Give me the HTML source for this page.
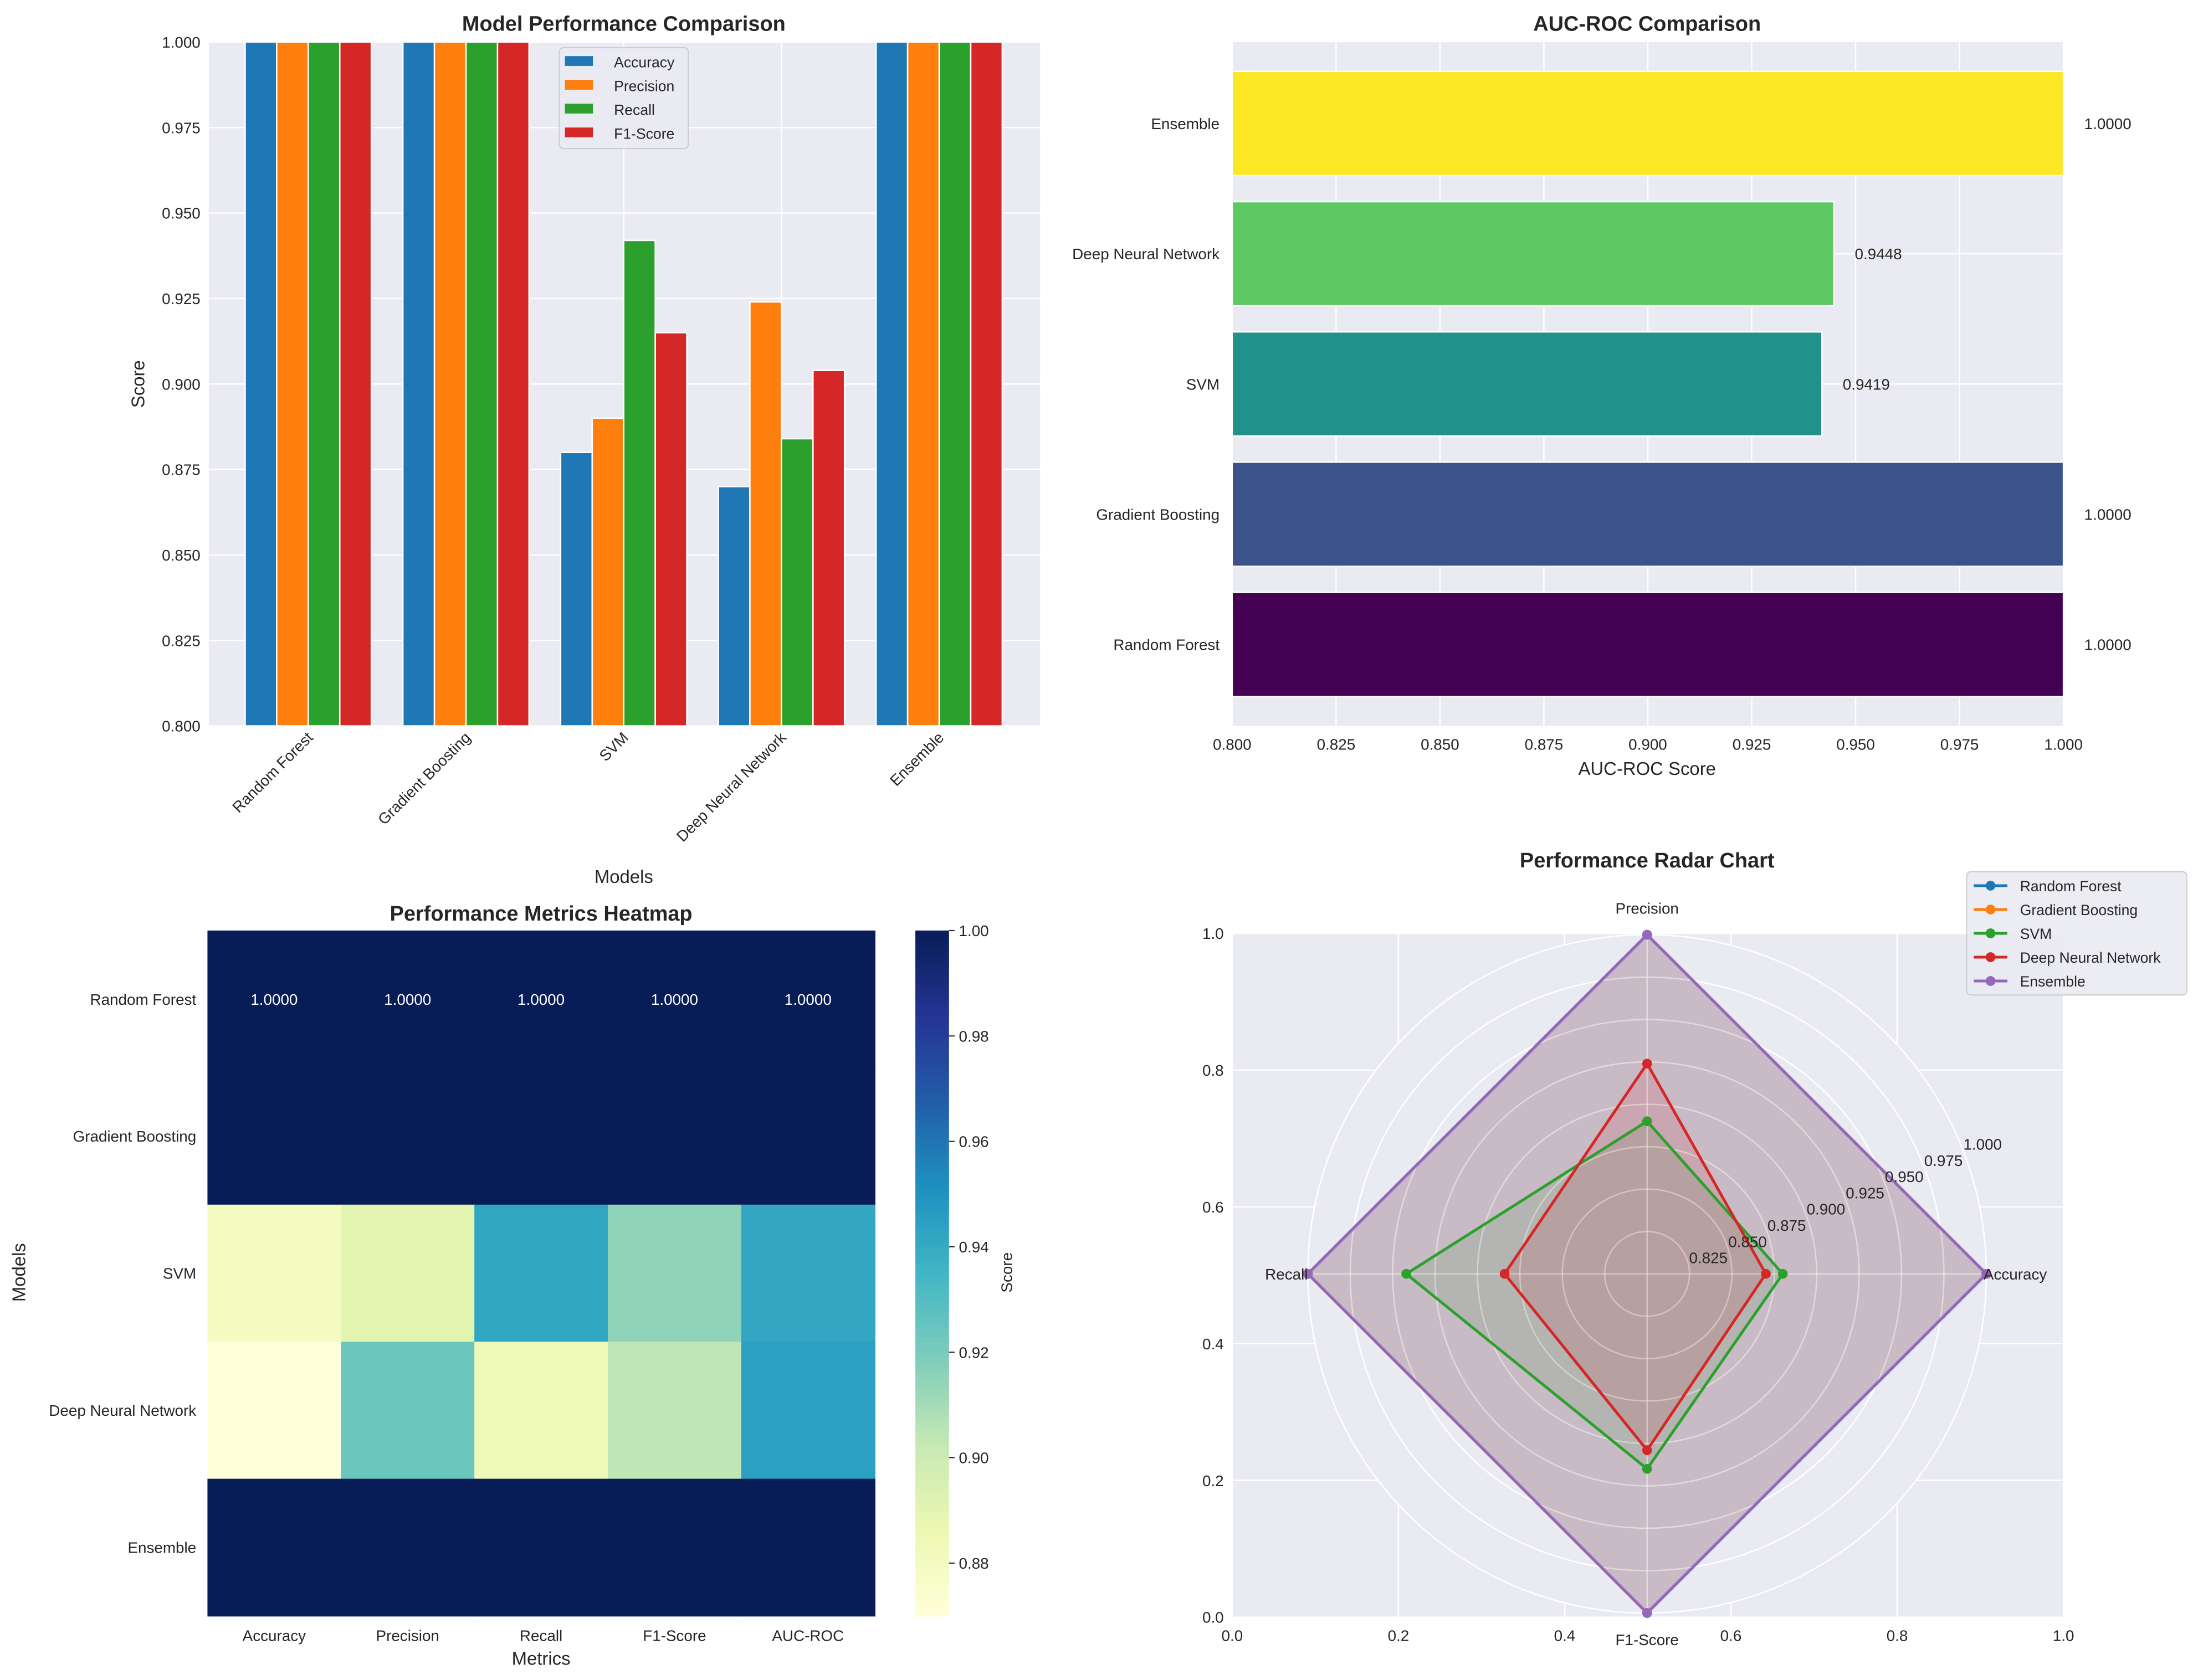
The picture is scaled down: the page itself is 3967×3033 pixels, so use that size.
<!DOCTYPE html>
<html><head><meta charset="utf-8"><style>
html,body{margin:0;padding:0;background:#fff;}
svg{display:block;font-family:"Liberation Sans",sans-serif;}
</style></head><body>
<svg id="fig" width="3967" height="3033" viewBox="0 0 1568 1198.8" xmlns="http://www.w3.org/2000/svg"></svg>
<script>
const models = ["Random Forest","Gradient Boosting","SVM","Deep Neural Network","Ensemble"];
const metrics = ["Accuracy","Precision","Recall","F1-Score"];
const accuracy = [1.0,1.0,0.880,0.870,1.0];
const precision = [1.0,1.0,0.890,0.924,1.0];
const recall = [1.0,1.0,0.942,0.884,1.0];
const f1score = [1.0,1.0,0.915,0.904,1.0];
const aucroc = [1.0,1.0,0.9419,0.9448,1.0];
const barTicks = [0.800,0.825,0.850,0.875,0.900,0.925,0.950,0.975,1.000];
const cbarTicks = [0.88,0.90,0.92,0.94,0.96,0.98,1.00];
const radarTicks = [0.825,0.850,0.875,0.900,0.925,0.950,0.975,1.000];
const frameTicks = [0.0,0.2,0.4,0.6,0.8,1.0];
const heatCols = ["Accuracy","Precision","Recall","F1-Score","AUC-ROC"];

const NS="http://www.w3.org/2000/svg";
const svg=document.getElementById('fig');
function el(tag,attrs,parent,text){const e=document.createElementNS(NS,tag);for(const k in attrs)e.setAttribute(k,attrs[k]);if(text!==undefined)e.textContent=text;(parent||svg).appendChild(e);return e;}
const barColors=["#1f77b4","#ff7f0e","#2ca02c","#d62728"];
const series=[accuracy,precision,recall,f1score];
const modelColors=["#1f77b4","#ff7f0e","#2ca02c","#d62728","#9467bd"];
const TXT="#262626";

// ---------- Chart 1: grouped bars ----------
const g1=el('g',{});


const A1={x0:149,x1:742,y0:30,y1:518};
const XMIN=-0.63,XMAX=4.64;
const x1s=v=>A1.x0+(v-XMIN)/(XMAX-XMIN)*(A1.x1-A1.x0);
const y1s=v=>A1.y1-(v-0.8)/0.2*(A1.y1-A1.y0);
el('rect',{x:A1.x0,y:A1.y0,width:A1.x1-A1.x0,height:A1.y1-A1.y0,fill:"#eaeaf2"},g1);
barTicks.forEach(t=>{el('line',{x1:A1.x0,x2:A1.x1,y1:y1s(t),y2:y1s(t),stroke:"#fff","stroke-width":1},g1);
 const tl=el('text',{x:A1.x0-6,y:y1s(t)+4,"text-anchor":"end","font-size":11,fill:TXT},g1,t.toFixed(3));
 });
models.forEach((m,i)=>el('line',{x1:x1s(i),x2:x1s(i),y1:A1.y0,y2:A1.y1,stroke:"#fff","stroke-width":1},g1));
const bw=0.2*(A1.x1-A1.x0)/(XMAX-XMIN);
series.forEach((s,j)=>s.forEach((v,i)=>{
 const cx=x1s(i+(j-1.5)*0.2);
 const r=el('rect',{x:cx-bw/2,y:y1s(v),width:bw,height:A1.y1-y1s(v),fill:barColors[j],stroke:"#fff","stroke-width":1},g1);
 
 
}));
models.forEach((m,i)=>{const t=el('text',{x:x1s(i)+4,y:527,"text-anchor":"end","font-size":11,fill:TXT,transform:`rotate(-45 ${x1s(i)+4} 527)`},g1,m);
 });
let t=el('text',{x:445,y:22,"text-anchor":"middle","font-size":15,"font-weight":"bold",fill:TXT},g1,"Model Performance Comparison");

t=el('text',{x:445,y:630,"text-anchor":"middle","font-size":13,fill:TXT},g1,"Models");

t=el('text',{x:103,y:274,"text-anchor":"middle","font-size":13,fill:TXT,transform:"rotate(-90 103 274)"},g1,"Score");

const lg1=el('g',{},g1);

el('rect',{x:399,y:34,width:92,height:72,rx:3,fill:"#eaeaf2","fill-opacity":0.9,stroke:"#ccc","stroke-width":0.8},lg1);
metrics.forEach((m,j)=>{el('rect',{x:403,y:40+j*17,width:20,height:7,fill:barColors[j]},lg1);
 const e=el('text',{x:438,y:48+j*17,"font-size":10.5,fill:TXT},lg1,m);
 });

// ---------- Chart 2: horizontal bars ----------
const g2=el('g',{});

const A2={x0:879,x1:1472,y0:30,y1:518};
const x2s=v=>A2.x0+(v-0.8)/0.2*(A2.x1-A2.x0);
const y2s=i=>A2.y1-(i+0.625)/5.25*(A2.y1-A2.y0);
const viridis=["#440154","#3b528b","#21918c","#5ec962","#fde725"];
el('rect',{x:A2.x0,y:A2.y0,width:A2.x1-A2.x0,height:A2.y1-A2.y0,fill:"#eaeaf2"},g2);
barTicks.forEach(tk=>{el('line',{x1:x2s(tk),x2:x2s(tk),y1:A2.y0,y2:A2.y1,stroke:"#fff","stroke-width":1},g2);
 const e=el('text',{x:x2s(tk),y:535,"text-anchor":"middle","font-size":11,fill:TXT},g2,tk.toFixed(3));
 });
const bh=0.8*(A2.y1-A2.y0)/5.25;
models.forEach((m,i)=>{el('line',{x1:A2.x0,x2:A2.x1,y1:y2s(i),y2:y2s(i),stroke:"#fff","stroke-width":1},g2);
 const r=el('rect',{x:A2.x0,y:y2s(i)-bh/2,width:x2s(aucroc[i])-A2.x0,height:bh,fill:viridis[i],stroke:"#fff","stroke-width":1},g2);
 
 const l=el('text',{x:x2s(aucroc[i]+0.005),y:y2s(i)+4,"font-size":11,fill:TXT},g2,aucroc[i].toFixed(4));
 
 const yl=el('text',{x:A2.x0-9,y:y2s(i)+4,"text-anchor":"end","font-size":11,fill:TXT},g2,m);
 });
t=el('text',{x:1175,y:22,"text-anchor":"middle","font-size":15,"font-weight":"bold",fill:TXT},g2,"AUC-ROC Comparison");

t=el('text',{x:1175,y:553,"text-anchor":"middle","font-size":13,fill:TXT},g2,"AUC-ROC Score");


// ---------- Chart 3: heatmap ----------
const g3=el('g',{});

const A3={x0:148,x1:624,y0:664,y1:1153};
const stops=["#ffffd9","#edf8b1","#c7e9b4","#7fcdbb","#41b6c4","#1d91c0","#225ea8","#253494","#081d58"];
function hex(c){return [1,3,5].map(k=>parseInt(c.substr(k,2),16));}
function cmap(v){let n=(v-0.87)/0.13;n=Math.max(0,Math.min(1,n));const p=n*8;const k=Math.min(7,Math.floor(p));const f=p-k;const a=hex(stops[k]),b=hex(stops[k+1]);return `rgb(${a.map((x,q)=>Math.round(x+(b[q]-x)*f)).join(',')})`;}
const heat=[accuracy,precision,recall,f1score,aucroc];
const cw=(A3.x1-A3.x0)/5,ch=(A3.y1-A3.y0)/5;
models.forEach((m,i)=>{heat.forEach((col,j)=>{
 const r=el('rect',{x:A3.x0+j*cw,y:A3.y0+i*ch,width:cw+0.5,height:ch+0.5,fill:cmap(col[i])},g3);
 
 if(i===0){const a=el('text',{x:A3.x0+(j+0.5)*cw,y:A3.y0+(i+0.5)*ch+4,"text-anchor":"middle","font-size":11,fill:"#fff"},g3,col[i].toFixed(4));
  }
 });
 const yl=el('text',{x:A3.x0-8,y:A3.y0+(i+0.5)*ch+4,"text-anchor":"end","font-size":11,fill:TXT},g3,m);
 });
heatCols.forEach((c,j)=>{const e=el('text',{x:A3.x0+(j+0.5)*cw,y:1171,"text-anchor":"middle","font-size":11,fill:TXT},g3,c);
 });
const cb=el('g',{},g3);
const CB={x0:653,x1:677,y0:664,y1:1153};
const cbY=v=>CB.y1-(v-0.87)/0.13*(CB.y1-CB.y0);
for(let k=0;k<130;k++){const v=0.87+k*0.001;el('rect',{x:CB.x0,y:cbY(v+0.001),width:CB.x1-CB.x0,height:(CB.y1-CB.y0)/130+0.6,fill:cmap(v+0.0005)},cb);}
cbarTicks.forEach(tk=>{el('line',{x1:CB.x1,x2:CB.x1+4,y1:cbY(tk),y2:cbY(tk),stroke:TXT,"stroke-width":0.8},cb);
 const e=el('text',{x:CB.x1+7,y:cbY(tk)+4,"font-size":11,fill:TXT},cb,tk.toFixed(2));
 });
t=el('text',{x:722,y:908,"text-anchor":"middle","font-size":11,fill:TXT,transform:"rotate(-90 722 908)"},cb,"Score");

t=el('text',{x:386,y:657,"text-anchor":"middle","font-size":15,"font-weight":"bold",fill:TXT},g3,"Performance Metrics Heatmap");

t=el('text',{x:386,y:1188,"text-anchor":"middle","font-size":13,fill:TXT},g3,"Metrics");

t=el('text',{x:18,y:908,"text-anchor":"middle","font-size":13,fill:TXT,transform:"rotate(-90 18 908)"},g3,"Models");


// ---------- Chart 4: radar ----------
const g4=el('g',{});

const A4={x0:879,x1:1472,y0:666,y1:1154};
el('rect',{x:A4.x0,y:A4.y0,width:A4.x1-A4.x0,height:A4.y1-A4.y0,fill:"#eaeaf2"},g4);
frameTicks.forEach(tk=>{const xx=A4.x0+tk*(A4.x1-A4.x0),yy=A4.y1-tk*(A4.y1-A4.y0);
 el('line',{x1:xx,x2:xx,y1:A4.y0,y2:A4.y1,stroke:"#fff","stroke-width":1},g4);
 el('line',{x1:A4.x0,x2:A4.x1,y1:yy,y2:yy,stroke:"#fff","stroke-width":1},g4);
 let e=el('text',{x:xx,y:1171,"text-anchor":"middle","font-size":11,fill:TXT},g4,tk.toFixed(1));
 
 e=el('text',{x:A4.x0-6,y:yy+4,"text-anchor":"end","font-size":11,fill:TXT},g4,tk.toFixed(1));
 });
const C={x:1175,y:909,R:242};
const rs=v=>(v-0.8)/0.2*C.R;
el('circle',{cx:C.x,cy:C.y,r:C.R,fill:"#eaeaf2"},g4);
const angs=[0,90,180,270];
const axLabels=["Accuracy","Precision","Recall","F1-Score"];
function grid(op){radarTicks.forEach(tk=>el('circle',{cx:C.x,cy:C.y,r:rs(tk),fill:"none",stroke:"#fff","stroke-width":1,"stroke-opacity":op},g4));
angs.forEach(a=>{const r=a*Math.PI/180;el('line',{x1:C.x,y1:C.y,x2:C.x+C.R*Math.cos(r),y2:C.y-C.R*Math.sin(r),stroke:"#fff","stroke-width":1,"stroke-opacity":op},g4);});}
grid(1);
const radarData=[accuracy,precision,recall,f1score];
function pts(i){return angs.map((a,k)=>{const r=a*Math.PI/180,d=rs(radarData[k][i]);return [C.x+d*Math.cos(r),C.y-d*Math.sin(r)];});}
models.forEach((m,i)=>{const p=pts(i);const s=p.map(q=>q.join(',')).join(' ');
 const f=el('polygon',{points:s,fill:modelColors[i],"fill-opacity":0.15,stroke:"none"},g4);
 });
grid(0.3);
models.forEach((m,i)=>{const p=pts(i);const s=p.concat([p[0]]).map(q=>q.join(',')).join(' ');
 const l=el('polyline',{points:s,fill:"none",stroke:modelColors[i],"stroke-width":2},g4);
 
 p.forEach(q=>{const c=el('circle',{cx:q[0],cy:q[1],r:3.5,fill:modelColors[i]},g4);
  });});
radarTicks.forEach(tk=>{const r=22.5*Math.PI/180,d=rs(tk);
 const e=el('text',{x:C.x+d*Math.cos(r)+2,y:C.y-d*Math.sin(r)+4,"font-size":11,fill:TXT},g4,tk.toFixed(3));
 });
[[C.x,652,"middle"],[C.x+C.R-2,913,"start"],[C.x-C.R,913,"end"],[C.x,1174,"middle"]].forEach((q,k)=>{
 const order=[1,0,2,3][k];const e=el('text',{x:q[0],y:q[1],"text-anchor":q[2],"font-size":11,fill:TXT},g4,axLabels[order]);
 });
t=el('text',{x:1175,y:619,"text-anchor":"middle","font-size":15,"font-weight":"bold",fill:TXT},g4,"Performance Radar Chart");

const lg4=el('g',{},g4);
el('rect',{x:1403,y:622,width:157,height:88,rx:3,fill:"#eaeaf2","fill-opacity":0.9,stroke:"#ccc","stroke-width":0.8},lg4);
models.forEach((m,i)=>{const yy=632+i*17;el('line',{x1:1408,x2:1432,y1:yy,y2:yy,stroke:modelColors[i],"stroke-width":2},lg4);
 el('circle',{cx:1420,cy:yy,r:3.5,fill:modelColors[i]},lg4);
 const e=el('text',{x:1441,y:yy+4,"font-size":10.5,fill:TXT},lg4,m);
 });
</script>
</body></html>
